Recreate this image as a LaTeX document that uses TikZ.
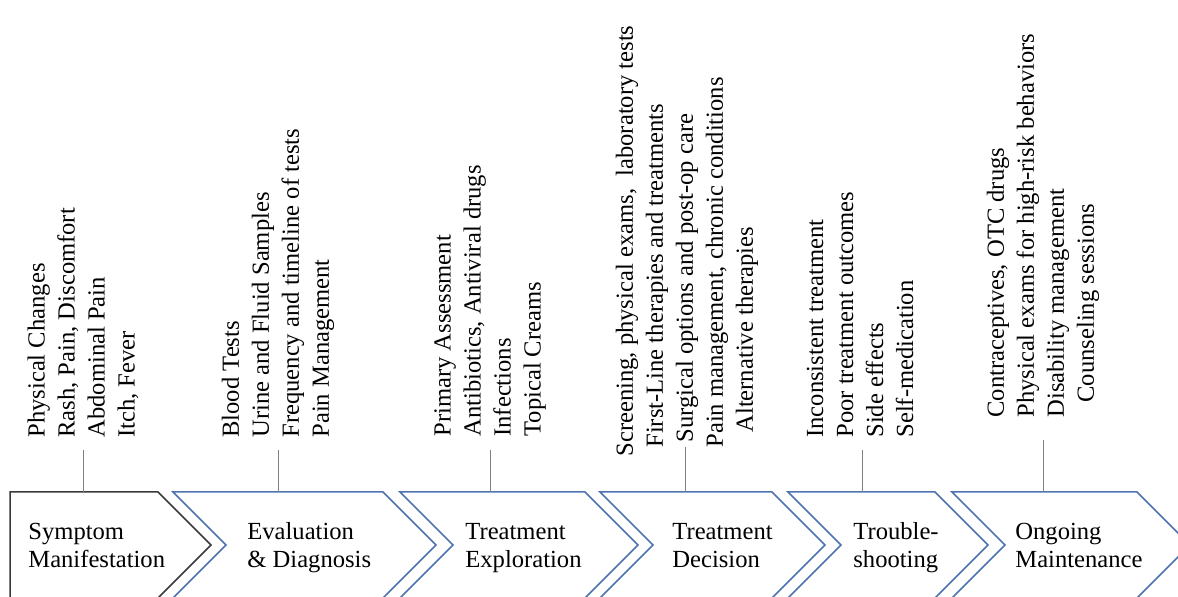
\documentclass[tikz,border=0pt]{standalone}
\usepackage{fontspec}
\setmainfont{Liberation Serif}
\usetikzlibrary{positioning}
\definecolor{mblue}{HTML}{4F72B0}
\definecolor{mdark}{HTML}{3A3A3A}
\definecolor{mgray}{HTML}{808080}
\tikzstyle{l1}=[line width=0.75pt, line join=miter]
\tikzstyle{chev}=[l1, draw=mblue]
\tikzstyle{stage}=[anchor=west, align=left, inner sep=0pt, font=\fontsize{12.3}{14}\selectfont]
\tikzstyle{items}=[rotate=90, anchor=west, align=left, inner sep=0pt, font=\fontsize{12.3}{15}\selectfont]
\tikzstyle{conn}=[line width=0.5pt, draw=mgray]

\begin{document}
\begin{tikzpicture}[x=0.5pt, y=-0.5pt]
    \useasboundingbox (0,0) rectangle (1178,597);
    \clip (0,0) rectangle (1178,597);

    % chevrons
    \draw[l1, draw=mdark] (10,492) -- (158,492) -- (211,545) -- (158,598) -- (10,598) -- cycle;
    \draw[chev] (173,492) -- (383,492) -- (436,545) -- (383,598) -- (173,598) -- (226,545) -- cycle;
    \draw[chev] (400,492) -- (585,492) -- (638,545) -- (585,598) -- (400,598) -- (453,545) -- cycle;
    \draw[chev] (600,492) -- (772,492) -- (825,545) -- (772,598) -- (600,598) -- (653,545) -- cycle;
    \draw[chev] (788,492) -- (935,492) -- (988,545) -- (935,598) -- (788,598) -- (841,545) -- cycle;
    \draw[chev] (952,492) -- (1137,492) -- (1190,545) -- (1137,598) -- (952,598) -- (1005,545) -- cycle;

    \node[stage] at (28,548) (s1) {\strut Symptom\\\strut Manifestation};
    \node[stage] at (247,548) (s2) {\strut Evaluation\\\strut\& Diagnosis};
    \node[stage] at (465,548) (s3) {\strut Treatment\\\strut Exploration};
    \node[stage] at (672,548) (s4) {\strut Treatment\\\strut Decision};
    \node[stage] at (853,548) (s5) {\strut Trouble-\\\strut shooting};
    \node[stage] at (1015,548) (s6) {\strut Ongoing\\\strut Maintenance};

    % details above each stage
    \node[items] at (83,438) (d1) {Physical Changes\\Rash, Pain, Discomfort\\Abdominal Pain\\Itch, Fever};
    \node[items] at (278,438) (d2) {Blood Tests\\Urine and Fluid Samples\\Frequency and timeline of tests\\Pain Management};
    \node[items] at (490,437) (d3) {Primary Assessment\\Antibiotics, Antiviral drugs\\Infections\\Topical Creams};
    \node[items] at (687,457) (d4) {Screening, physical exams,\ \ laboratory tests\\\hspace*{4.5pt}First-Line therapies and treatments\\\hspace*{7pt}Surgical options and post-op care\\\hspace*{4.5pt}Pain management, chronic conditions\\\hspace*{12pt}Alternative therapies};
    \node[items] at (860,438) (d5) {Inconsistent treatment\\Poor treatment outcomes\\Side effects\\Self-medication};
    \node[items] at (1043,418) (d6) {Contraceptives, OTC drugs\\Physical exams for high-risk behaviors\\Disability management\\\hspace*{7.5pt}Counseling sessions};

    \coordinate (t1) at (83,492);
    \coordinate (t2) at (278,492);
    \coordinate (t3) at (490,492);
    \coordinate (t4) at (685,492);
    \coordinate (t5) at (862,492);
    \coordinate (t6) at (1043,492);
    \coordinate (e1) at (83,450);
    \coordinate (e2) at (278,450);
    \coordinate (e3) at (490,450);
    \coordinate (e4) at (685,447);
    \coordinate (e5) at (862,450);
    \coordinate (e6) at (1043,440);

    \draw[conn] (t1) -- (e1);
    \draw[conn] (t2) -- (e2);
    \draw[conn] (t3) -- (e3);
    \draw[conn] (t4) -- (e4);
    \draw[conn] (t5) -- (e5);
    \draw[conn] (t6) -- (e6);
\end{tikzpicture}
\end{document}
